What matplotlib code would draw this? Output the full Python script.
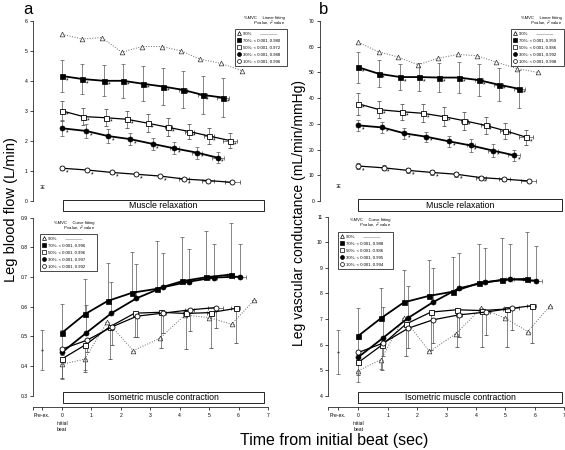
import matplotlib.pyplot as plt
from matplotlib.lines import Line2D
from matplotlib.patches import Rectangle
from matplotlib.transforms import offset_copy

plt.rcParams['font.family'] = ['Liberation Sans', 'DejaVu Sans']
plt.rcParams['mathtext.fontset'] = 'custom'
plt.rcParams['mathtext.it'] = 'Liberation Sans:italic'
plt.rcParams['mathtext.rm'] = 'Liberation Sans'

# ---------------- data ----------------
pre_x = -0.69

# relaxation: beat times (s)
t_rel_90 = [0, 0.69, 1.35, 2.03, 2.71, 3.39, 4.04, 4.69, 5.40, 6.10]
t_rel_70 = [0, 0.69, 1.42, 2.08, 2.76, 3.43, 4.10, 4.78, 5.48]
t_rel_50 = [0, 0.72, 1.50, 2.20, 2.91, 3.61, 4.33, 5.00, 5.71]
t_rel_30 = [0, 0.82, 1.57, 2.31, 3.08, 3.82, 4.58, 5.29]
t_rel_10 = [0, 0.86, 1.69, 2.51, 3.33, 4.16, 4.97, 5.79]
tsd_rel_70 = [0, 0, 0, 0, 0, 0, 0.14, 0.15, 0.20]
tsd_rel_50 = [0, 0, 0, 0, 0, 0.11, 0.15, 0.17, 0.23]
tsd_rel_30 = [0, 0, 0, 0, 0, 0.14, 0.17, 0.20]
tsd_rel_10 = [0, 0, 0, 0, 0, 0.17, 0.20, 0.25]

# leg blood flow, relaxation (L/min)
lbf_rel_90 = [5.55, 5.39, 5.44, 4.95, 5.14, 5.14, 5.00, 4.72, 4.58, 4.34]
lbf_rel_70 = [4.16, 4.06, 4.00, 4.00, 3.90, 3.81, 3.70, 3.53, 3.44]
lbf_rel_50 = [3.00, 2.81, 2.77, 2.72, 2.59, 2.45, 2.31, 2.16, 2.01]
lbf_rel_30 = [2.42, 2.33, 2.16, 2.06, 1.90, 1.75, 1.61, 1.44]
lbf_rel_10 = [1.09, 1.03, 0.95, 0.89, 0.83, 0.73, 0.68, 0.62]
lbf_rel_sd_70 = [0.53, 0.51, 0.51, 0.57, 0.58, 0.60, 0.61, 0.63, 0.66]
lbf_rel_sd_50 = [0.33, 0.28, 0.28, 0.28, 0.30, 0.30, 0.26, 0.28, 0.25]
lbf_rel_sd_30 = [0.26, 0.24, 0.22, 0.20, 0.20, 0.20, 0.20, 0.19]
lbf_rel_sd_10 = [0.05, 0.04, 0.04, 0.04, 0.04, 0.04, 0.03, 0.03]
lbf_pre, lbf_pre_sd = 0.48, 0.04

# leg vascular conductance, relaxation (mL/min/mmHg)
lvc_rel_90 = [61.7, 58.0, 56.0, 53.0, 55.5, 57.0, 56.5, 54.0, 51.5, 50.0]
lvc_rel_70 = [52.0, 49.5, 48.2, 48.2, 48.0, 48.0, 47.0, 45.2, 43.6]
lvc_rel_50 = [37.8, 35.5, 34.7, 34.1, 32.8, 31.2, 29.4, 27.3, 24.8]
lvc_rel_30 = [29.4, 28.6, 26.3, 25.0, 23.2, 21.6, 19.6, 17.8]
lvc_rel_10 = [13.6, 12.9, 11.9, 11.1, 10.4, 9.1, 8.5, 7.8]
lvc_rel_sd_70 = [6.0, 5.2, 5.0, 5.5, 5.7, 6.0, 6.2, 6.5, 7.5]
lvc_rel_sd_50 = [4.2, 3.4, 3.2, 3.5, 3.6, 3.6, 3.2, 3.0, 3.0]
lvc_rel_sd_30 = [2.0, 2.3, 2.2, 2.0, 2.2, 2.5, 2.5, 2.2]
lvc_rel_sd_10 = [1.2, 1.0, 1.0, 1.0, 1.0, 0.8, 0.6, 0.5]
lvc_pre, lvc_pre_sd = 6.0, 0.5

# contraction: beat times (s)
t_con_90 = [0, 0.77, 1.54, 2.42, 3.32, 4.18, 5.00, 5.76, 6.53]
t_con_70 = [0, 0.77, 1.55, 2.39, 3.22, 4.09, 4.89, 5.73]
t_con_50 = [0, 0.79, 1.62, 2.47, 3.35, 4.20, 5.05, 5.90]
t_con_30 = [0, 0.83, 1.68, 2.53, 3.42, 4.31, 5.16, 6.04]
t_con_10 = [0, 0.85, 1.70, 2.55, 3.42, 4.34, 5.22]
tsd_con_70 = [0, 0, 0, 0, 0, 0.06, 0.08, 0.12]
tsd_con_50 = [0, 0, 0, 0, 0, 0.08, 0.12, 0.15]
tsd_con_30 = [0, 0, 0, 0, 0, 0.08, 0.12, 0.20]
tsd_con_10 = [0, 0, 0, 0, 0.10, 0.15, 0.25]

# leg blood flow, contraction (L/min)
lbf_con_90 = [0.406, 0.423, 0.549, 0.452, 0.493, 0.572, 0.563, 0.541, 0.622]
lbf_con_70 = [0.512, 0.574, 0.619, 0.647, 0.660, 0.686, 0.699, 0.708]
lbf_con_50 = [0.424, 0.471, 0.532, 0.578, 0.581, 0.577, 0.580, 0.594]
lbf_con_30 = [0.446, 0.512, 0.578, 0.628, 0.665, 0.684, 0.698, 0.701]
lbf_con_10 = [0.457, 0.487, 0.532, 0.568, 0.578, 0.589, 0.597]
lbf_con_up_70 = [0.098, 0.118, 0.129, 0.138, 0.162, 0.150, 0.157, 0.173]
lbf_con_up_30 = [0.075, 0.094, 0.106, 0.114, 0.115, 0.109, 0.112, 0.109]
lbf_con_dn_50 = [0.065, 0.090, 0.108, 0.080, 0.120, 0.120, 0.118, 0.117]
lbf_con_dn_10 = [0.020, 0.040, 0.060, 0.070, 0.068, 0.070, 0.068]
lbf_con_dn_90 = [0.050, 0.038, 0, 0, 0, 0, 0, 0, 0]
lbf_con_pre, lbf_con_pre_sd = 0.455, 0.068

# leg vascular conductance, contraction (mL/min/mmHg)
lvc_con_90 = [4.98, 5.41, 7.03, 5.73, 6.42, 7.42, 7.03, 6.51, 7.52]
lvc_con_70 = [6.34, 7.03, 7.65, 7.90, 8.07, 8.40, 8.53, 8.57]
lvc_con_50 = [5.30, 5.97, 6.80, 7.27, 7.36, 7.33, 7.39, 7.52]
lvc_con_30 = [5.51, 6.25, 7.03, 7.65, 8.20, 8.43, 8.56, 8.50]
lvc_con_10 = [5.69, 6.06, 6.64, 6.97, 7.16, 7.27, 7.42]
lvc_con_up_70 = [1.08, 1.20, 1.27, 1.39, 1.37, 1.54, 1.65, 1.82]
lvc_con_up_30 = [0.70, 1.20, 1.27, 1.34, 1.37, 1.36, 1.38, 1.37]
lvc_con_dn_50 = [0.50, 0.95, 1.25, 1.50, 1.47, 1.44, 1.49, 1.46]
lvc_con_dn_10 = [0.30, 0.50, 0.78, 0.90, 0.87, 0.89, 0.84]
lvc_con_dn_90 = [0.45, 0.35, 0, 0, 0, 0, 0, 0, 0]
lvc_con_pre, lvc_con_pre_sd = 5.72, 0.86

n_star_10 = 6  # open circles: asterisk only on the first beats

leg_a_top = ['< 0.001, 0.980', '< 0.001, 0.972', '< 0.001, 0.988', '< 0.001, 0.996']
leg_b_top = ['< 0.001, 0.959', '< 0.001, 0.986', '< 0.001, 0.992', '< 0.001, 0.998']
leg_a_bot = ['< 0.001, 0.996', '< 0.001, 0.996', '< 0.001, 0.997', '< 0.001, 0.992']
leg_b_bot = ['< 0.001, 0.988', '< 0.001, 0.986', '< 0.001, 0.995', '< 0.001, 0.994']

# ---------------- styles ----------------
STY = {
    '90': dict(marker='^', mfc='white', mec='#333', ls=':', color='#666', lw=0.7, ms=3.4, mew=0.5),
    '70': dict(marker='s', mfc='k', mec='k', ls='-', color='k', lw=1.3, ms=3.6, mew=0.5),
    '50': dict(marker='s', mfc='white', mec='k', ls='-', color='k', lw=0.9, ms=3.6, mew=0.6),
    '30': dict(marker='o', mfc='k', mec='k', ls='-', color='k', lw=1.3, ms=3.6, mew=0.5),
    '10': dict(marker='o', mfc='white', mec='k', ls='-', color='k', lw=0.9, ms=3.6, mew=0.6),
}
EB = dict(ecolor='#555', elinewidth=0.5, capsize=1.1, capthick=0.5)

W, H = 565, 450
fig = plt.figure(figsize=(W / 100, H / 100), dpi=100)


def add_ax(l, t, r, b):
    return fig.add_axes([l / W, 1 - b / H, (r - l) / W, (b - t) / H])


def series(ax, x, y, key, yerr=None, xerr=None, z=3):
    ax.errorbar(x, y, yerr=yerr, xerr=xerr, zorder=z, **EB, **STY[key])


def stars(ax, x, y, n=None):
    tr = offset_copy(ax.transData, fig=fig, x=5, y=-4.5, units='dots')
    n = len(x) if n is None else n
    for xi, yi in zip(x[:n], y[:n]):
        ax.text(xi, yi, '*', transform=tr, fontsize=5, ha='center', va='center')


def box(ax, x0, x1, y0, y1, text):
    ax.add_patch(Rectangle((x0, y0), x1 - x0, y1 - y0, fill=False, lw=0.6,
                           ec='k', clip_on=False, zorder=1))
    ax.text((x0 + x1) / 2, (y0 + y1) / 2, text, ha='center', va='center', fontsize=6.3)


def legend(ax, l, t, w, head, vals):
    hs = [Line2D([], [], ls='none', marker=STY[k]['marker'], mfc=STY[k]['mfc'],
                 mec='k', ms=2.8, mew=0.5) for k in ['90', '70', '50', '30', '10']]
    labs = ['90%        ' + '\u2014' * 4] + ['%s: %s' % (p, v) for p, v in
                                              zip(['70%', '50%', '30%', '10%'], vals)]
    lg = ax.legend(hs, labs, loc='upper left', bbox_to_anchor=(l / W, 1 - t / H, w / W, 0.0),
                   bbox_transform=fig.transFigure, mode='expand', borderaxespad=0,
                   fontsize=3.1, handlelength=0.7, handletextpad=0.5, labelspacing=0.7,
                   borderpad=0.6, fancybox=False, framealpha=1, edgecolor='k')
    lg.get_frame().set_linewidth(0.5)
    fig.text((l + w - 2) / W, 1 - (t - 9.5) / H, '%MVC     ' + head, fontsize=3.0,
             ha='right', va='bottom')
    fig.text((l + w - 2) / W, 1 - (t - 1.5) / H, r'$P$ value, $r^2$ value', fontsize=3.0,
             ha='right', va='bottom')


def style_top(ax, ymax, step, fmt):
    for s in ['top', 'right', 'bottom']:
        ax.spines[s].set_visible(False)
    ax.spines['left'].set_bounds(0, ymax)
    ax.spines['left'].set_linewidth(0.5)
    ax.set_xticks([])
    ticks = [i * step for i in range(int(round(ymax / step)) + 1)]
    ax.set_yticks(ticks)
    ax.set_yticklabels([fmt % v for v in ticks])
    ax.tick_params(axis='y', labelsize=3.6, length=2.5, width=0.5, pad=1.5)


def style_bot(ax, y0, y1, step, fmt):
    for s in ['top', 'right']:
        ax.spines[s].set_visible(False)
    ax.spines['left'].set_bounds(y0, y1)
    ax.spines['left'].set_linewidth(0.5)
    ax.spines['bottom'].set_linewidth(0.5)
    xl = ax.get_xlim()[0]
    ax.spines['bottom'].set_bounds(xl, 7)
    ax.set_xticks([xl, pre_x, 0, 1, 2, 3, 4, 5, 6, 7])
    ax.set_xticklabels(['', 'Pre-ex.', '0', '1', '2', '3', '4', '5', '6', '7'])
    n = int(round((y1 - y0) / step))
    ticks = [y0 + i * step for i in range(n + 1)]
    ax.set_yticks(ticks)
    ax.set_yticklabels([fmt % v for v in ticks])
    ax.tick_params(labelsize=3.6, length=2.5, width=0.5, pad=1.5)
    ax.text(0, -0.075, 'initial\nbeat', transform=ax.get_xaxis_transform(),
            fontsize=3.6, ha='center', va='top', linespacing=1.1)


# ---------------- panel a, relaxation ----------------
ax = add_ax(33, 15, 271, 213)
ax.set_xlim(-0.985, 7.1)
ax.set_ylim(-0.40, 6.19)
ax.patch.set_alpha(0)
series(ax, t_rel_90, lbf_rel_90, '90', z=2)
series(ax, t_rel_70, lbf_rel_70, '70', yerr=lbf_rel_sd_70, xerr=tsd_rel_70)
series(ax, t_rel_50, lbf_rel_50, '50', yerr=lbf_rel_sd_50, xerr=tsd_rel_50)
series(ax, t_rel_30, lbf_rel_30, '30', yerr=lbf_rel_sd_30, xerr=tsd_rel_30)
series(ax, t_rel_10, lbf_rel_10, '10', yerr=lbf_rel_sd_10, xerr=tsd_rel_10)
ax.errorbar([pre_x], [lbf_pre], yerr=[lbf_pre_sd], fmt='_', color='#333', ms=2, **EB)
stars(ax, t_rel_70, lbf_rel_70)
stars(ax, t_rel_50, lbf_rel_50)
stars(ax, t_rel_30, lbf_rel_30)
stars(ax, t_rel_10, lbf_rel_10, n_star_10)
box(ax, 0.02, 6.87, -0.34, 0.04, 'Muscle relaxation')
style_top(ax, 6, 1, '%d')
legend(ax, 235, 29, 52, 'Linear fitting', leg_a_top)

# ---------------- panel a, contraction ----------------
ax = add_ax(33, 214, 271, 407)
ax.set_xlim(-0.985, 7.1)
ax.set_ylim(0.262, 0.912)
ax.patch.set_alpha(0)
series(ax, t_con_90, lbf_con_90, '90', yerr=[lbf_con_dn_90, [0] * len(lbf_con_90)], z=2)
series(ax, t_con_70, lbf_con_70, '70', yerr=[[0] * 8, lbf_con_up_70], xerr=tsd_con_70)
series(ax, t_con_30, lbf_con_30, '30', yerr=[[0] * 8, lbf_con_up_30], xerr=tsd_con_30)
series(ax, t_con_50, lbf_con_50, '50', yerr=[lbf_con_dn_50, [0] * 8], xerr=tsd_con_50)
series(ax, t_con_10, lbf_con_10, '10', yerr=[lbf_con_dn_10, [0] * 7], xerr=tsd_con_10)
ax.errorbar([pre_x], [lbf_con_pre], yerr=[lbf_con_pre_sd], fmt='_', color='#333', ms=2, **EB)
box(ax, 0.02, 6.87, 0.2754, 0.3125, 'Isometric muscle contraction')
style_bot(ax, 0.3, 0.9, 0.1, '%.1f')
legend(ax, 40, 234, 57, 'Curve fitting', leg_a_bot)

# ---------------- panel b, relaxation ----------------
ax = add_ax(320, 15, 565, 213)
ax.set_xlim(-1.303, 7.03)
ax.set_ylim(-4.67, 72.33)
ax.patch.set_alpha(0)
series(ax, t_rel_90, lvc_rel_90, '90', z=2)
series(ax, t_rel_70, lvc_rel_70, '70', yerr=lvc_rel_sd_70, xerr=tsd_rel_70)
series(ax, t_rel_50, lvc_rel_50, '50', yerr=lvc_rel_sd_50, xerr=tsd_rel_50)
series(ax, t_rel_30, lvc_rel_30, '30', yerr=lvc_rel_sd_30, xerr=tsd_rel_30)
series(ax, t_rel_10, lvc_rel_10, '10', yerr=lvc_rel_sd_10, xerr=tsd_rel_10)
ax.errorbar([pre_x], [lvc_pre], yerr=[lvc_pre_sd], fmt='_', color='#333', ms=2, **EB)
stars(ax, t_rel_70, lvc_rel_70)
stars(ax, t_rel_50, lvc_rel_50)
stars(ax, t_rel_30, lvc_rel_30)
stars(ax, t_rel_10, lvc_rel_10, n_star_10)
box(ax, 0.0, 6.93, -3.9, 0.6, 'Muscle relaxation')
style_top(ax, 70, 10, '%d')
legend(ax, 511, 29, 53, 'Linear fitting', leg_b_top)

# ---------------- panel b, contraction ----------------
ax = add_ax(328, 214, 565, 407)
ax.set_xlim(-1.031, 7.03)
ax.set_ylim(3.558, 11.106)
ax.patch.set_alpha(0)
series(ax, t_con_90, lvc_con_90, '90', yerr=[lvc_con_dn_90, [0] * len(lvc_con_90)], z=2)
series(ax, t_con_70, lvc_con_70, '70', yerr=[[0] * 8, lvc_con_up_70], xerr=tsd_con_70)
series(ax, t_con_30, lvc_con_30, '30', yerr=[[0] * 8, lvc_con_up_30], xerr=tsd_con_30)
series(ax, t_con_50, lvc_con_50, '50', yerr=[lvc_con_dn_50, [0] * 8], xerr=tsd_con_50)
series(ax, t_con_10, lvc_con_10, '10', yerr=[lvc_con_dn_10, [0] * 7], xerr=tsd_con_10)
ax.errorbar([pre_x], [lvc_con_pre], yerr=[lvc_con_pre_sd], fmt='_', color='#333', ms=2, **EB)
box(ax, 0.0, 6.93, 3.714, 4.145, 'Isometric muscle contraction')
style_bot(ax, 4, 11, 1, '%d')
legend(ax, 338, 232, 55, 'Curve fitting', leg_b_bot)

# ---------------- figure text ----------------
fig.text(28 / W, 1 - 10 / H, 'a', fontsize=12, ha='center', va='center')
fig.text(324 / W, 1 - 10 / H, 'b', fontsize=12, ha='center', va='center')
fig.text(11 / W, 1 - 210 / H, 'Leg blood flow (L/min)', rotation=90, fontsize=10.5,
         ha='center', va='center')
fig.text(299 / W, 1 - 213 / H, 'Leg vascular conductance (mL/min/mmHg)', rotation=90,
         fontsize=10, ha='center', va='center')
fig.text(334 / W, 1 - 441 / H, 'Time from initial beat (sec)', fontsize=11.5,
         ha='center', va='center')

fig.savefig('out.png', dpi=100)
